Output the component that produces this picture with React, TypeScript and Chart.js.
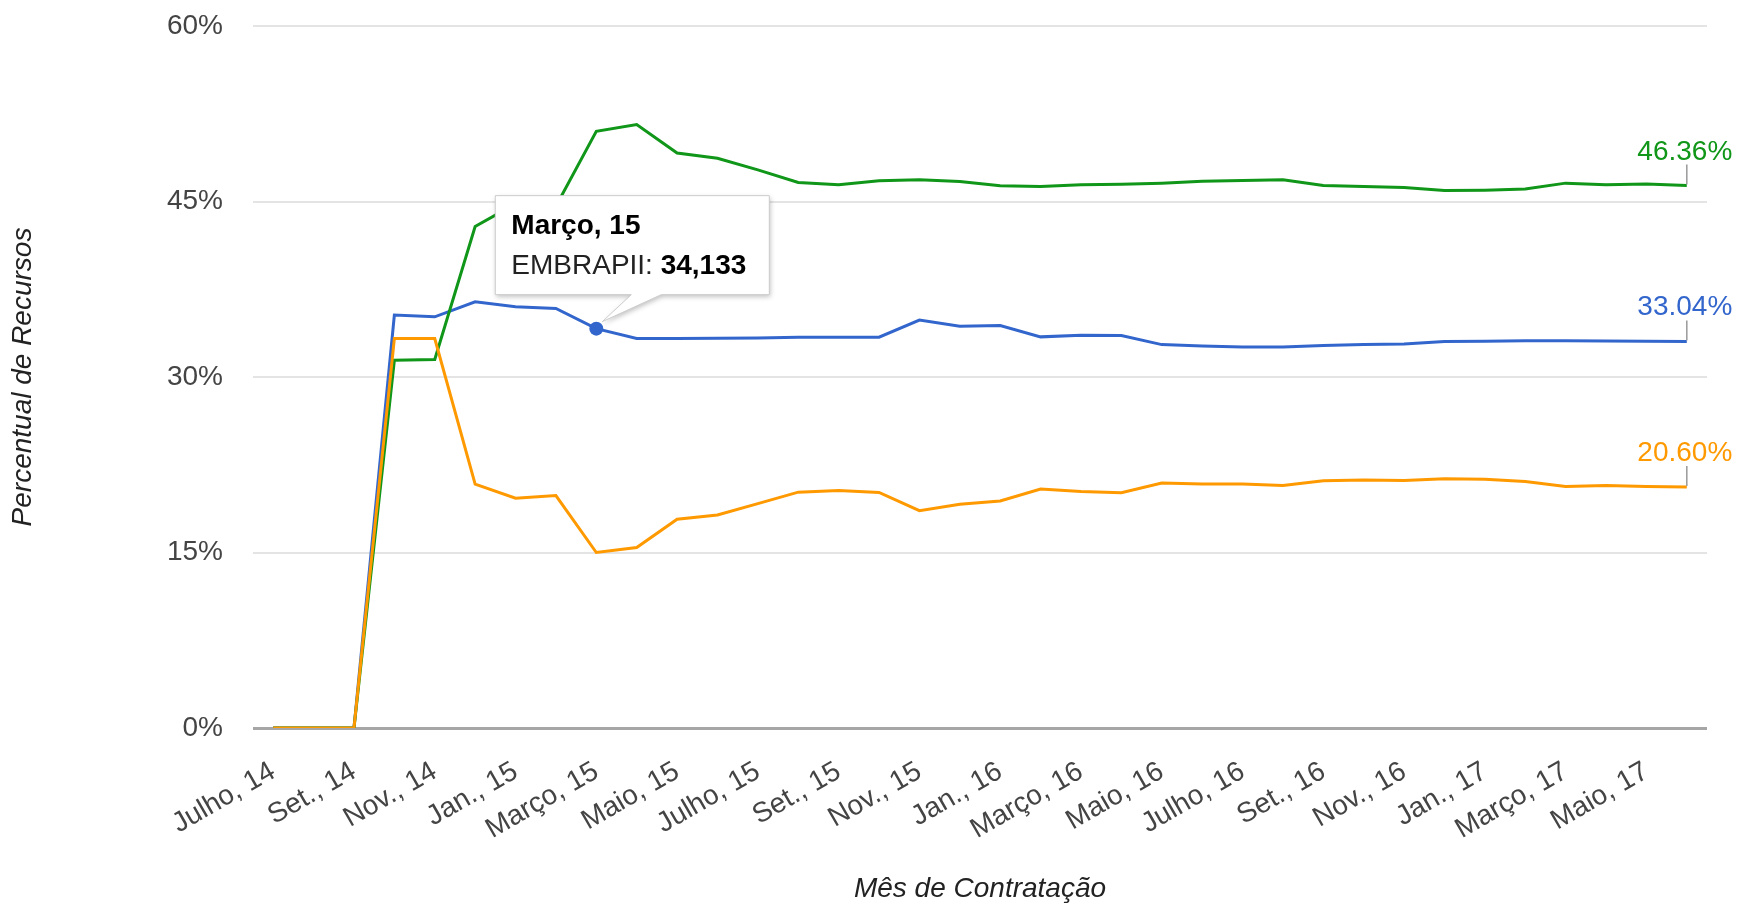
import React, { useEffect, useRef } from 'react';
import { Chart, registerables } from 'chart.js';

Chart.register(...registerables);

const months = [
  'Julho, 14', 'Ago., 14', 'Set., 14', 'Out., 14', 'Nov., 14', 'Dez., 14',
  'Jan., 15', 'Fev., 15', 'Março, 15', 'Abril, 15', 'Maio, 15', 'Junho, 15',
  'Julho, 15', 'Ago., 15', 'Set., 15', 'Out., 15', 'Nov., 15', 'Dez., 15',
  'Jan., 16', 'Fev., 16', 'Março, 16', 'Abril, 16', 'Maio, 16', 'Junho, 16',
  'Julho, 16', 'Ago., 16', 'Set., 16', 'Out., 16', 'Nov., 16', 'Dez., 16',
  'Jan., 17', 'Fev., 17', 'Março, 17', 'Abril, 17', 'Maio, 17', 'Junho, 17',
];

const embrapii = [
  0, 0, 0, 35.29, 35.14, 36.43, 36.0, 35.86, 34.133, 33.29, 33.29, 33.31,
  33.34, 33.4, 33.4, 33.4, 34.86, 34.34, 34.4, 33.43, 33.57, 33.55, 32.77, 32.66,
  32.57, 32.57, 32.69, 32.77, 32.83, 33.03, 33.06, 33.1, 33.09, 33.08, 33.06, 33.04,
];

const empresas = [
  0, 0, 0, 31.43, 31.5, 42.86, 44.8, 44.6, 51.0, 51.57, 49.14, 48.7,
  47.7, 46.63, 46.43, 46.77, 46.86, 46.71, 46.34, 46.29, 46.43, 46.47, 46.57, 46.74,
  46.8, 46.86, 46.37, 46.29, 46.2, 45.94, 45.97, 46.06, 46.57, 46.43, 46.49, 46.36,
];

const unidades = [
  0, 0, 0, 33.29, 33.29, 20.85, 19.64, 19.87, 15.0, 15.43, 17.84, 18.2,
  19.18, 20.16, 20.3, 20.13, 18.58, 19.13, 19.41, 20.42, 20.21, 20.1, 20.93, 20.85,
  20.85, 20.73, 21.13, 21.19, 21.16, 21.3, 21.27, 21.07, 20.64, 20.73, 20.64, 20.6,
];

const yTickValues = [0, 15, 30, 45, 60];
const tooltipIndex = 8;

const FONT = "'Liberation Sans', Arial, Helvetica, sans-serif";
const BLUE = '#3366cc';
const GREEN = '#109618';
const ORANGE = '#ff9900';

export default function App() {
  const ref = useRef<HTMLCanvasElement>(null);

  useEffect(() => {
    document.body.style.margin = '0';
    const canvas = ref.current;
    if (!canvas) return;

    const endLabels = {
      id: 'endLabels',
      afterDatasetsDraw(chart: any) {
        const ctx = chart.ctx;
        ctx.save();
        chart.data.datasets.forEach((ds: any, di: number) => {
          const meta = chart.getDatasetMeta(di);
          const last = meta.data[meta.data.length - 1];
          const v = ds.data[ds.data.length - 1];
          const x = last.x;
          const y = last.y;
          ctx.strokeStyle = '#999999';
          ctx.lineWidth = 1.5;
          ctx.beginPath();
          ctx.moveTo(x, y - 1);
          ctx.lineTo(x, y - 21);
          ctx.stroke();
          ctx.fillStyle = ds.borderColor;
          ctx.font = `28px ${FONT}`;
          ctx.textAlign = 'center';
          ctx.textBaseline = 'alphabetic';
          ctx.fillText(v.toFixed(2) + '%', x - 2, y - 26);
        });
        ctx.restore();
      },
    };

    const tip = {
      id: 'fixedTip',
      afterDraw(chart: any) {
        const ctx = chart.ctx;
        const meta = chart.getDatasetMeta(0);
        const pt = meta.data[tooltipIndex];
        const px = pt.x;
        const py = pt.y;
        const L = px - 101;
        const T = py - 133;
        const W = 274;
        const H = 99;
        ctx.save();
        ctx.beginPath();
        ctx.moveTo(L, T);
        ctx.lineTo(L + W, T);
        ctx.lineTo(L + W, T + H);
        ctx.lineTo(px + 65, T + H);
        ctx.lineTo(px + 6, py - 7);
        ctx.lineTo(px + 35, T + H);
        ctx.lineTo(L, T + H);
        ctx.closePath();
        ctx.shadowColor = 'rgba(0,0,0,0.25)';
        ctx.shadowBlur = 5;
        ctx.shadowOffsetX = 1;
        ctx.shadowOffsetY = 2;
        ctx.fillStyle = '#ffffff';
        ctx.fill();
        ctx.shadowColor = 'transparent';
        ctx.strokeStyle = '#cccccc';
        ctx.lineWidth = 1;
        ctx.stroke();

        ctx.textAlign = 'left';
        ctx.textBaseline = 'alphabetic';
        ctx.fillStyle = '#000000';
        ctx.font = `bold 28px ${FONT}`;
        ctx.fillText(months[tooltipIndex], L + 16, py - 95);

        const label = chart.data.datasets[0].label + ': ';
        ctx.font = `28px ${FONT}`;
        ctx.fillStyle = '#222222';
        ctx.fillText(label, L + 16, py - 55);
        const lw = ctx.measureText(label).width;
        ctx.font = `bold 28px ${FONT}`;
        ctx.fillStyle = '#000000';
        const val = embrapii[tooltipIndex].toLocaleString('pt-BR', {
          minimumFractionDigits: 3,
          maximumFractionDigits: 3,
        });
        ctx.fillText(val, L + 16 + lw, py - 55);
        ctx.restore();
      },
    };

    const chart = new Chart(canvas, {
      type: 'line',
      data: {
        labels: months,
        datasets: [
          {
            label: 'EMBRAPII',
            data: embrapii,
            borderColor: BLUE,
            backgroundColor: BLUE,
            borderWidth: 3,
            pointRadius: months.map((_, i) => (i === tooltipIndex ? 7 : 0)),
            pointBorderWidth: 0,
            pointBackgroundColor: BLUE,
            tension: 0,
            order: 2,
          },
          {
            label: 'Empresas',
            data: empresas,
            borderColor: GREEN,
            backgroundColor: GREEN,
            borderWidth: 3,
            pointRadius: 0,
            tension: 0,
            order: 1,
          },
          {
            label: 'Unidades EMBRAPII',
            data: unidades,
            borderColor: ORANGE,
            backgroundColor: ORANGE,
            borderWidth: 3,
            pointRadius: 0,
            tension: 0,
            order: 0,
          },
        ],
      },
      options: {
        animation: false,
        responsive: false,
        events: [],
        layout: { padding: { left: 0, top: 26, right: 30, bottom: 0 } },
        plugins: {
          legend: { display: false },
          tooltip: { enabled: false },
        },
        scales: {
          x: {
            type: 'category',
            offset: true,
            grid: { display: false, drawTicks: false },
            border: { display: false },
            afterFit: (s: any) => {
              s.height = 178;
              s.paddingLeft = 0;
              s.paddingRight = 0;
            },
            ticks: {
              autoSkip: false,
              minRotation: 30,
              maxRotation: 30,
              padding: 27,
              color: '#444444',
              font: { family: FONT, size: 28 },
              callback: (_v: any, i: number) => (i % 2 === 0 ? months[i] : ''),
            },
            title: {
              display: true,
              text: 'Mês de Contratação',
              color: '#222222',
              font: { family: FONT, size: 28, style: 'italic' },
              padding: { top: 0, bottom: 0 },
            },
          },
          y: {
            min: 0,
            max: 60,
            afterFit: (s: any) => {
              s.width = 253;
              s.paddingTop = 0;
              s.paddingBottom = 0;
            },
            afterBuildTicks: (s: any) => {
              s.ticks = yTickValues.map((v) => ({ value: v }));
            },
            grid: {
              drawTicks: false,
              color: (c: any) => (c.tick && c.tick.value === 0 ? '#a6a6a6' : '#e4e4e4'),
              lineWidth: (c: any) => (c.tick && c.tick.value === 0 ? 3 : 2),
            },
            border: { display: false },
            ticks: {
              padding: 30,
              color: '#444444',
              font: { family: FONT, size: 28 },
              callback: (v: any) => v + '%',
            },
            title: {
              display: true,
              text: 'Percentual de Recursos',
              color: '#222222',
              font: { family: FONT, size: 28, style: 'italic' },
              padding: { top: 6, bottom: 0 },
            },
          },
        },
      },
      plugins: [endLabels, tip],
    });

    return () => chart.destroy();
  }, []);

  return (
    <div style={{ position: 'absolute', left: 0, top: 0, width: 1737, height: 906 }}>
      <canvas ref={ref} width={1737} height={906} style={{ width: 1737, height: 906 }} />
    </div>
  );
}
